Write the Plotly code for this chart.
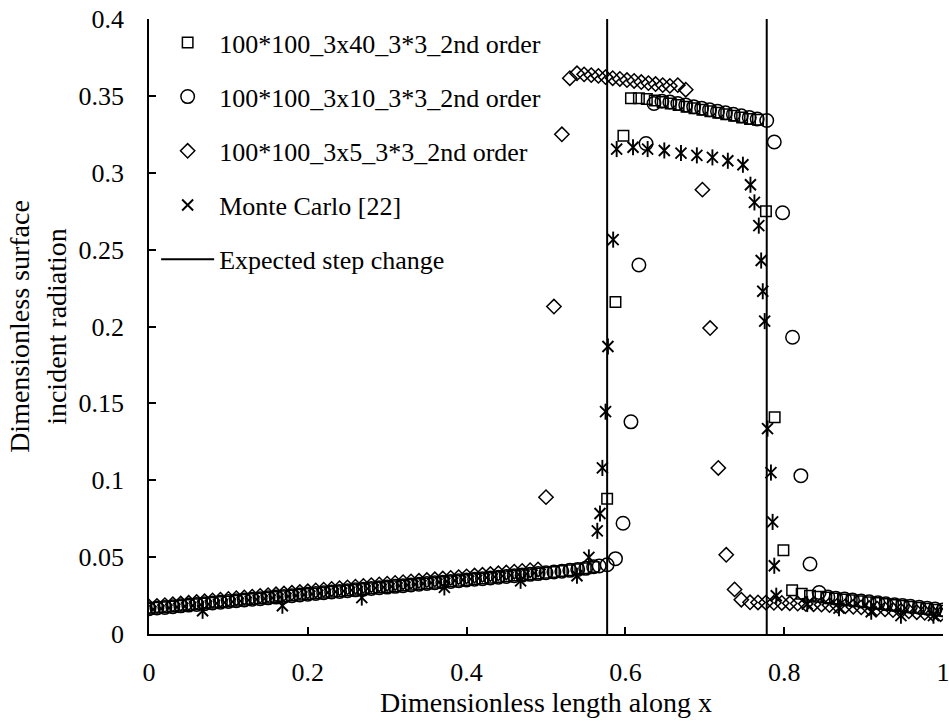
import plotly.graph_objects as go

# ---- shared x positions of the smooth low-flux region ----
x_low = [0.00, 0.01, 0.02, 0.03, 0.04, 0.05, 0.06, 0.07, 0.08, 0.09,
         0.10, 0.11, 0.12, 0.13, 0.14, 0.15, 0.16, 0.17, 0.18, 0.19,
         0.20, 0.21, 0.22, 0.23, 0.24, 0.25, 0.26, 0.27, 0.28, 0.29,
         0.30, 0.31, 0.32, 0.33, 0.34, 0.35, 0.36, 0.37, 0.38, 0.39,
         0.40, 0.41, 0.42, 0.43, 0.44, 0.45, 0.46, 0.47, 0.48, 0.49,
         0.50, 0.51, 0.52, 0.53, 0.54, 0.55, 0.56]

# ---- 100*100_3x40_3*3_2nd order ----
sq_low = [0.0165, 0.0170, 0.0174, 0.0179, 0.0184, 0.0189, 0.0193, 0.0198, 0.0203, 0.0208,
          0.0212, 0.0217, 0.0222, 0.0227, 0.0231, 0.0236, 0.0241, 0.0245, 0.0250, 0.0255,
          0.0260, 0.0264, 0.0269, 0.0274, 0.0278, 0.0283, 0.0288, 0.0292, 0.0297, 0.0302,
          0.0306, 0.0311, 0.0315, 0.0320, 0.0325, 0.0329, 0.0334, 0.0338, 0.0343, 0.0347,
          0.0352, 0.0357, 0.0361, 0.0366, 0.0370, 0.0375, 0.0380, 0.0384, 0.0389, 0.0394,
          0.0399, 0.0404, 0.0409, 0.0415, 0.0421, 0.0428, 0.0436]
sq_x = [0.577, 0.5875, 0.5975, 0.607, 0.617, 0.627, 0.637, 0.647, 0.657, 0.667, 0.677,
        0.687, 0.697, 0.707, 0.717, 0.727, 0.737, 0.747, 0.757, 0.767,
        0.777, 0.788, 0.799, 0.810, 0.822, 0.8325, 0.843, 0.853, 0.864, 0.874, 0.885,
        0.895, 0.906, 0.916, 0.927, 0.937, 0.948, 0.958, 0.969, 0.979, 0.990, 1.000]
sq_y = [0.088, 0.216, 0.324, 0.3485, 0.3485, 0.348, 0.347, 0.346, 0.345, 0.344, 0.343,
        0.342, 0.341, 0.340, 0.339, 0.338, 0.337, 0.336, 0.335, 0.3344,
        0.275, 0.141, 0.0545, 0.0285, 0.0262, 0.0249, 0.0243, 0.0237, 0.0231, 0.0225, 0.0219,
        0.0213, 0.0207, 0.0201, 0.0195, 0.0189, 0.0183, 0.0177, 0.0171, 0.0165, 0.0158, 0.0152]

# ---- 100*100_3x10_3*3_2nd order ----
ci_low = [0.0164, 0.0169, 0.0173, 0.0178, 0.0183, 0.0188, 0.0192, 0.0197, 0.0202, 0.0207,
          0.0211, 0.0216, 0.0221, 0.0226, 0.0230, 0.0235, 0.0240, 0.0244, 0.0249, 0.0254,
          0.0259, 0.0263, 0.0268, 0.0273, 0.0277, 0.0282, 0.0287, 0.0291, 0.0296, 0.0301,
          0.0305, 0.0310, 0.0314, 0.0319, 0.0324, 0.0328, 0.0333, 0.0337, 0.0342, 0.0346,
          0.0351, 0.0356, 0.0360, 0.0365, 0.0369, 0.0374, 0.0379, 0.0383, 0.0388, 0.0393,
          0.0398, 0.0403, 0.0408, 0.0414, 0.0420, 0.0427, 0.0437]
ci_x = [0.567, 0.577, 0.5875, 0.597, 0.607, 0.617, 0.626, 0.636, 0.646, 0.656, 0.666,
        0.676, 0.686, 0.696, 0.706, 0.716, 0.726, 0.736, 0.746, 0.756, 0.766, 0.778,
        0.7875, 0.798, 0.8105, 0.821, 0.8325, 0.844, 0.855, 0.865, 0.876, 0.886, 0.897,
        0.907, 0.918, 0.928, 0.939, 0.949, 0.959, 0.970, 0.980, 0.990, 1.000]
ci_y = [0.0442, 0.045, 0.049, 0.072, 0.138, 0.240, 0.319, 0.345, 0.3465, 0.346, 0.345,
        0.344, 0.343, 0.342, 0.341, 0.340, 0.339, 0.338, 0.337, 0.336, 0.335, 0.334,
        0.320, 0.274, 0.193, 0.103, 0.0455, 0.0270, 0.0240, 0.0233, 0.0227, 0.0221, 0.0215,
        0.0209, 0.0203, 0.0197, 0.0191, 0.0186, 0.0180, 0.0174, 0.0168, 0.0162, 0.0156]

# ---- 100*100_3x5_3*3_2nd order ----
di_low = [0.0178, 0.0183, 0.0188, 0.0193, 0.0198, 0.0203, 0.0208, 0.0213, 0.0218, 0.0223,
          0.0228, 0.0233, 0.0238, 0.0243, 0.0248, 0.0253, 0.0258, 0.0263, 0.0268, 0.0273,
          0.0278, 0.0283, 0.0288, 0.0293, 0.0298, 0.0303, 0.0308, 0.0313, 0.0318, 0.0322,
          0.0327, 0.0332, 0.0337, 0.0342, 0.0346, 0.0351, 0.0356, 0.0361, 0.0365, 0.0370,
          0.0375, 0.0380, 0.0385, 0.0390, 0.0395, 0.0400, 0.0405, 0.0410, 0.0415, 0.0420]
di_x = [0.500, 0.510, 0.520, 0.530, 0.539, 0.548, 0.557, 0.566, 0.575, 0.584, 0.593,
        0.602, 0.611, 0.620, 0.629, 0.638, 0.647, 0.656, 0.666, 0.676,
        0.697, 0.7067, 0.717, 0.727, 0.7375, 0.746, 0.757, 0.767, 0.777, 0.787, 0.797,
        0.807, 0.817, 0.827, 0.837, 0.847, 0.857, 0.867, 0.877, 0.887, 0.897, 0.907,
        0.917, 0.927, 0.937, 0.947, 0.957, 0.967, 0.977, 0.987, 0.997]
di_y = [0.089, 0.213, 0.325, 0.3615, 0.3647, 0.364, 0.3635, 0.363, 0.3622, 0.3615, 0.361,
        0.3603, 0.3597, 0.359, 0.3583, 0.3577, 0.357, 0.3565, 0.357, 0.354,
        0.289, 0.199, 0.108, 0.0515, 0.029, 0.0223, 0.0206, 0.0205, 0.0204, 0.0203, 0.0202,
        0.0200, 0.0198, 0.0196, 0.0194, 0.0191, 0.0188, 0.0185, 0.0181, 0.0177, 0.0173, 0.0169,
        0.0165, 0.0160, 0.0156, 0.0151, 0.0147, 0.0142, 0.0138, 0.0133, 0.0129]

# ---- Monte Carlo [22] ----
mc_x = [0.0675, 0.168, 0.268, 0.372, 0.468, 0.539, 0.554, 0.5646, 0.568, 0.571, 0.575,
        0.578, 0.5846, 0.589, 0.6096, 0.628, 0.649, 0.670, 0.690, 0.7096, 0.729, 0.748,
        0.7575, 0.7625, 0.768, 0.771, 0.773, 0.7754, 0.779, 0.7833, 0.7854, 0.7875, 0.790,
        0.829, 0.869, 0.9096, 0.947, 0.988]
mc_y = [0.0151, 0.0184, 0.0237, 0.0303, 0.0346, 0.0379, 0.0498, 0.0671, 0.0784, 0.108, 0.1446,
        0.187, 0.2565, 0.3154, 0.3166, 0.3154, 0.3145, 0.3128, 0.3113, 0.3100, 0.3078, 0.3052,
        0.2922, 0.2807, 0.2656, 0.2429, 0.2229, 0.2035, 0.1336, 0.105, 0.0729, 0.0444, 0.0249,
        0.0195, 0.0168, 0.0145, 0.0119, 0.0119]

# ---- expected step change locations ----
step_x = [0.577, 0.778]
y_range = [0, 0.4]

FONT = "Liberation Serif, Times New Roman, serif"
INK = "black"

sq_all_x = x_low + sq_x
sq_all_y = sq_low + sq_y
ci_all_x = x_low + ci_x
ci_all_y = ci_low + ci_y
di_all_x = x_low[:len(di_low)] + di_x
di_all_y = di_low + di_y

line_x, line_y = [], []
for xs in step_x:
    line_x += [xs, xs, None]
    line_y += [y_range[0], y_range[1], None]

fig = go.Figure()
fig.add_trace(go.Scatter(
    x=sq_all_x, y=sq_all_y, mode="markers", name="100*100_3x40_3*3_2nd order",
    legendgroup="a",
    marker=dict(symbol="square-open", size=10.5, color=INK, line=dict(width=1.5, color=INK))))
fig.add_trace(go.Scatter(
    x=ci_all_x, y=ci_all_y, mode="markers", name="100*100_3x10_3*3_2nd order",
    legendgroup="b",
    marker=dict(symbol="circle-open", size=13.5, color=INK, line=dict(width=1.5, color=INK))))
fig.add_trace(go.Scatter(
    x=di_all_x, y=di_all_y, mode="markers", name="100*100_3x5_3*3_2nd order",
    legendgroup="c",
    marker=dict(symbol="diamond-open", size=11, color=INK, line=dict(width=1.5, color=INK))))
# the Monte Carlo star: an X with a vertical bar through it
fig.add_trace(go.Scatter(
    x=mc_x, y=mc_y, mode="markers", name="Monte Carlo [22]", legendgroup="d",
    marker=dict(symbol="x-thin-open", size=11, color=INK, line=dict(width=1.9, color=INK))))
fig.add_trace(go.Scatter(
    x=mc_x, y=mc_y, mode="markers", name="Monte Carlo [22]", legendgroup="d",
    showlegend=False,
    marker=dict(symbol="line-ns-open", size=11.5, color=INK, line=dict(width=1.9, color=INK))))
fig.add_trace(go.Scatter(
    x=line_x, y=line_y, mode="lines", name="Expected step change", legendgroup="e",
    line=dict(color=INK, width=2)))

fig.update_layout(
    width=949, height=724,
    margin=dict(l=149, r=6, t=19, b=90, autoexpand=False),
    paper_bgcolor="white", plot_bgcolor="white",
    font=dict(family=FONT, size=26, color=INK),
    showlegend=True,
    legend=dict(
        x=0.009, y=1.0, xanchor="left", yanchor="top",
        bgcolor="rgba(0,0,0,0)", borderwidth=0,
        traceorder="grouped", tracegroupgap=17.4, itemwidth=53,
        font=dict(family=FONT, size=26, color=INK)),
)
fig.update_xaxes(
    range=[0, 1], dtick=0.2, tick0=0, automargin=False,
    showline=True, linecolor=INK, linewidth=1.5, showgrid=False, zeroline=False,
    ticks="inside", ticklen=7, tickwidth=1.5, tickcolor=INK,
    ticklabelstandoff=14, ticklabeloverflow="allow",
    title=dict(text="Dimensionless length along x", font=dict(family=FONT, size=28), standoff=2),
)
fig.update_yaxes(
    range=y_range, dtick=0.05, tick0=0, automargin=False,
    showline=True, linecolor=INK, linewidth=1.5, showgrid=False, zeroline=False,
    ticks="inside", ticklen=7, tickwidth=1.5, tickcolor=INK,
    ticklabelstandoff=18, ticklabeloverflow="allow",
    title=dict(text="Dimensionless surface<br>incident radiation",
               font=dict(family=FONT, size=28), standoff=4),
)

fig.write_html("out.html")
